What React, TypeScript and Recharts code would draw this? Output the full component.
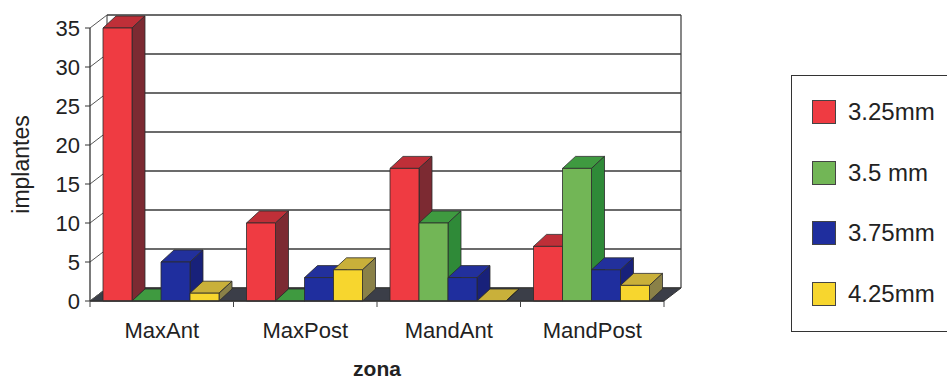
import { BarChart, Bar, XAxis, YAxis, CartesianGrid } from 'recharts'

// zones on the x axis and implant counts per diameter
const zonas = ['MaxAnt', 'MaxPost', 'MandAnt', 'MandPost']
const d325 = [35, 10, 17, 7]
const d35 = [0, 0, 10, 17]
const d375 = [5, 3, 3, 4]
const d425 = [1, 4, 0, 2]
const yTicks = [0, 5, 10, 15, 20, 25, 30, 35]

type Face = { key: string; name: string; front: string; top: string; side: string }

const SERIES: Face[] = [
  { key: 'd325', name: '3.25mm', front: '#ef3b42', top: '#bf2f38', side: '#7c2a32' },
  { key: 'd35', name: '3.5 mm', front: '#72b656', top: '#3f9a40', side: '#2f8a38' },
  { key: 'd375', name: '3.75mm', front: '#1f2e9e', top: '#22309c', side: '#18217a' },
  { key: 'd425', name: '4.25mm', front: '#f7d62e', top: '#c9b03a', side: '#8a8148' },
]

const data = zonas.map((zona, i) => ({
  zona,
  d325: d325[i],
  d35: d35[i],
  d375: d375[i],
  d425: d425[i],
}))

const W = 947
const H = 384
const LEFT = 90
const TOP = 28
const PLOT_W = 574
const PLOT_H = 273
const X_AXIS_H = 40
const FONT = '"Liberation Sans", Arial, Helvetica, sans-serif'
const INK = '#222'

// 3D depth offsets: back wall and bar boxes
const WALL_DX = 17
const WALL_DY = 13
const BAR_DX = 13
const BAR_DY = 12

const makeBarShape = (face: Face) => (props: any) => {
  const { x, y, width } = props
  const h = Math.max(0, props.height || 0)
  const x2 = x + width
  const yb = y + h
  return (
    <g stroke="#2b2b2b" strokeWidth={0.8} strokeLinejoin="round">
      <polygon
        points={`${x},${y} ${x2},${y} ${x2 + BAR_DX},${y - BAR_DY} ${x + BAR_DX},${y - BAR_DY}`}
        fill={face.top}
      />
      <polygon
        points={`${x2},${y} ${x2 + BAR_DX},${y - BAR_DY} ${x2 + BAR_DX},${yb - BAR_DY} ${x2},${yb}`}
        fill={face.side}
      />
      {h > 0 && <rect x={x} y={y} width={width} height={h} fill={face.front} />}
    </g>
  )
}

// back wall line for each tick, plus the left wall diagonal; floor and wall edges drawn once
const renderGridLine = (props: any) => {
  const { x1, x2, y1, index, x, y, width, height } = props
  const bottom = y + height
  const right = x + width
  return (
    <g key={`grid-${index}`}>
      {index === 0 && (
        <g>
          <line x1={x + WALL_DX} y1={y - WALL_DY} x2={x + WALL_DX} y2={bottom - WALL_DY} stroke="#555" strokeWidth={1.2} />
          <line x1={right + WALL_DX} y1={y - WALL_DY} x2={right + WALL_DX} y2={bottom - WALL_DY} stroke="#555" strokeWidth={1.4} />
          <polygon
            points={`${x},${bottom} ${right},${bottom} ${right + WALL_DX},${bottom - WALL_DY} ${x + WALL_DX},${bottom - WALL_DY}`}
            fill="#3b3e48"
            stroke="#333"
            strokeWidth={1}
          />
        </g>
      )}
      <line x1={x1 + WALL_DX} y1={y1 - WALL_DY} x2={x2 + WALL_DX} y2={y1 - WALL_DY} stroke="#3a3a3a" strokeWidth={1.3} />
      <line x1={x1} y1={y1} x2={x1 + WALL_DX} y2={y1 - WALL_DY} stroke="#555" strokeWidth={1} />
    </g>
  )
}

const BAND = PLOT_W / zonas.length

const CategoryTick = (props: any) => {
  const { x, y, payload, index } = props
  const left = x - BAND / 2
  return (
    <g>
      <line x1={left} y1={y} x2={left} y2={y + 6} stroke="#444" strokeWidth={1} />
      {index === zonas.length - 1 && (
        <line x1={x + BAND / 2} y1={y} x2={x + BAND / 2} y2={y + 6} stroke="#444" strokeWidth={1} />
      )}
      <text x={x} y={y + 37} textAnchor="middle" fontSize={22} fill={INK} fontFamily={FONT}>
        {payload.value}
      </text>
    </g>
  )
}

const YTitle = (props: any) => {
  const cy = props.viewBox ? props.viewBox.y + props.viewBox.height / 2 : TOP + PLOT_H / 2
  return (
    <text
      x={21}
      y={cy}
      transform={`rotate(-90, 21, ${cy})`}
      textAnchor="middle"
      dominantBaseline="central"
      fontSize={23}
      fill={INK}
      fontFamily={FONT}
    >
      implantes
    </text>
  )
}

const XTitle = () => (
  <text x={LEFT + PLOT_W / 2} y={376} textAnchor="middle" fontSize={21} fontWeight="bold" fill={INK} fontFamily={FONT}>
    zona
  </text>
)

const LegendBox = () => (
  <div
    style={{
      position: 'absolute',
      left: 791,
      top: 75,
      width: 190,
      height: 257,
      border: '1.5px solid #333',
      boxSizing: 'border-box',
      fontFamily: FONT,
    }}
  >
    {SERIES.map((s, i) => (
      <div
        key={s.key}
        style={{
          position: 'absolute',
          left: 20,
          top: 24 + i * 60.5,
          display: 'flex',
          alignItems: 'center',
          height: 24,
        }}
      >
        <div style={{ width: 22, height: 22, background: s.front, border: '1px solid #444' }} />
        <span style={{ marginLeft: 12, fontSize: 24, color: INK, whiteSpace: 'nowrap' }}>{s.name}</span>
      </div>
    ))}
  </div>
)

export default function App() {
  return (
    <div
      style={{
        position: 'absolute',
        left: 0,
        top: 0,
        width: W,
        height: H,
        overflow: 'hidden',
        background: '#fff',
        fontFamily: FONT,
      }}
    >
      <BarChart
        width={W}
        height={H}
        data={data}
        margin={{ top: TOP, right: W - LEFT - PLOT_W, bottom: H - TOP - PLOT_H - X_AXIS_H, left: 0 }}
        barCategoryGap={13}
        barGap={0}
      >
        <CartesianGrid horizontal={renderGridLine} vertical={false} />
        <XAxis
          dataKey="zona"
          height={X_AXIS_H}
          tickSize={0}
          tickMargin={0}
          tickLine={false}
          axisLine={{ stroke: '#333', strokeWidth: 1.3 }}
          tick={<CategoryTick />}
          interval={0}
          label={<XTitle />}
        />
        <YAxis
          width={LEFT}
          domain={[0, 35]}
          ticks={yTicks}
          tickSize={5}
          tickMargin={5}
          tickLine={{ stroke: '#333' }}
          axisLine={{ stroke: '#333', strokeWidth: 1.3 }}
          tick={{ fontSize: 22, fill: INK, fontFamily: FONT }}
          label={<YTitle />}
        />
        {SERIES.map((s) => (
          <Bar
            key={s.key}
            dataKey={s.key}
            name={s.name}
            fill={s.front}
            shape={makeBarShape(s)}
            isAnimationActive={false}
          />
        ))}
      </BarChart>
      <LegendBox />
    </div>
  )
}
